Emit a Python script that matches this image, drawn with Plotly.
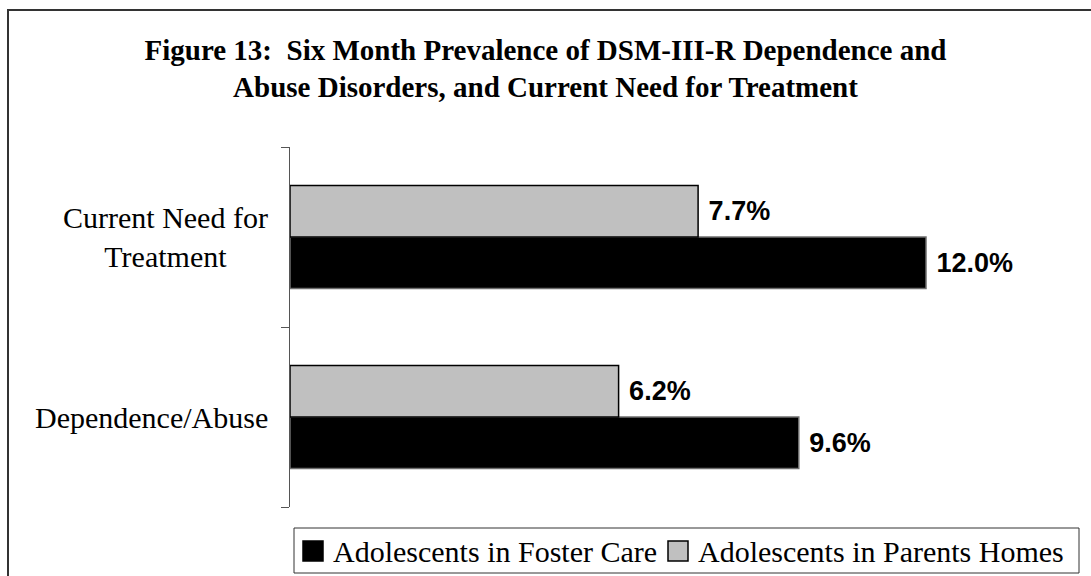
import plotly.graph_objects as go

# ---------------- data ----------------
categories = ["Dependence/Abuse", "Current Need for Treatment"]
category_labels = ["Dependence/Abuse", "Current Need for<br>Treatment"]
series_names = ["Adolescents in Foster Care", "Adolescents in Parents Homes"]
foster_care = [9.6, 12.0]
parents_homes = [6.2, 7.7]
title_text = ("Figure 13:  Six Month Prevalence of DSM-III-R Dependence and<br>"
              "Abuse Disorders, and Current Need for Treatment")

# ---------------- layout geometry (pixels) ----------------
FIG_W, FIG_H = 1091, 576
M_L, M_R, M_T, M_B = 290, 59, 147, 69
PW = FIG_W - M_L - M_R
PH = FIG_H - M_T - M_B


def px_x(px):
    return (px - M_L) / PW


def px_y(py):
    return (FIG_H - M_B - py) / PH


SERIF = "Liberation Serif, Times New Roman, serif"
SANS = "Liberation Sans, Arial, sans-serif"
colors = ["#000000", "#c0c0c0"]
line_colors = ["#6e6e6e", "#000000"]

fig = go.Figure()
for name, vals, col, lc in zip(series_names, [foster_care, parents_homes], colors, line_colors):
    fig.add_trace(go.Bar(
        y=categories, x=vals, name=name, orientation="h",
        marker=dict(color=col, line=dict(color=lc, width=1.5)),
        texttemplate="\u00a0%{x:.1f}%", textposition="outside",
        textfont=dict(family=SANS, size=27, color="black", weight="bold"),
        constraintext="none", cliponaxis=False, showlegend=False,
    ))

annotations = []
# category labels (centered multi-line, right-aligned block)
for cat, lab in zip(categories, category_labels):
    annotations.append(dict(
        x=px_x(270), xref="paper", y=cat, yref="y", text=lab,
        xanchor="right", yanchor="middle", align="center", showarrow=False,
        font=dict(family=SERIF, size=30, color="black"),
    ))

shapes = []
# outer chart border
shapes.append(dict(type="rect", xref="paper", yref="paper",
                   x0=px_x(8), x1=px_x(1100), y0=px_y(585), y1=px_y(10),
                   line=dict(color="#333333", width=2), fillcolor="rgba(0,0,0,0)"))
# manual legend box
shapes.append(dict(type="rect", xref="paper", yref="paper",
                   x0=px_x(294), x1=px_x(1079), y0=px_y(573), y1=px_y(528),
                   line=dict(color="#333333", width=1), fillcolor="rgba(0,0,0,0)"))
leg_sq_x = [303, 668]
leg_txt_x = [331, 696]
for name, col, sx, tx in zip(series_names, colors, leg_sq_x, leg_txt_x):
    shapes.append(dict(type="rect", xref="paper", yref="paper",
                       x0=px_x(sx), x1=px_x(sx + 20), y0=px_y(561), y1=px_y(541),
                       line=dict(color="black", width=1.5), fillcolor=col))
    annotations.append(dict(
        x=px_x(tx), xref="paper", y=px_y(551), yref="paper", text=name,
        xanchor="left", yanchor="middle", showarrow=False,
        font=dict(family=SERIF, size=30, color="black"),
    ))

fig.update_layout(
    width=FIG_W, height=FIG_H,
    margin=dict(l=M_L, r=M_R, t=M_T, b=M_B),
    paper_bgcolor="white", plot_bgcolor="white",
    barmode="group", bargap=0.427, bargroupgap=0,
    title=dict(text=title_text, x=0.5, xref="container", xanchor="center",
               y=1 - 59.5 / FIG_H, yref="container", yanchor="middle",
               font=dict(family=SERIF, size=29, color="black", weight="bold")),
    xaxis=dict(range=[0, 14], visible=False, showgrid=False, zeroline=False),
    yaxis=dict(categoryorder="array", categoryarray=categories,
               range=[-0.5, 1.5], showline=True, linecolor="#555555", linewidth=1,
               ticks="outside", tickson="boundaries", ticklen=8, tickcolor="#555555",
               showticklabels=False, showgrid=False, zeroline=False),
    annotations=annotations, shapes=shapes,
    showlegend=False,
)

fig.write_html("out.html")
